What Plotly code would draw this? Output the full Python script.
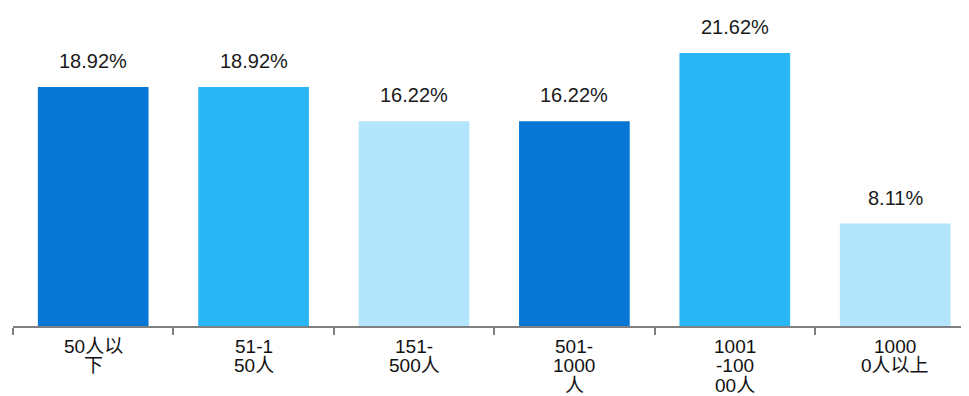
import plotly.graph_objects as go

categories = ["50人以下", "51-150人", "151-500人", "501-1000人", "1001-10000人", "10000人以上"]
tick_lines = [["50人以", "下"], ["51-1", "50人"], ["151-", "500人"], ["501-", "1000", "人"],
              ["1001", "-100", "00人"], ["1000", "0人以上"]]
values = [18.92, 18.92, 16.22, 16.22, 21.62, 8.11]
value_labels = ["18.92%", "18.92%", "16.22%", "16.22%", "21.62%", "8.11%"]
colors = ["#0677D4", "#29B6F6", "#B3E5FC", "#0677D4", "#29B6F6", "#B3E5FC"]

FONT = "Arial, 'Liberation Sans', 'Noto Sans CJK SC', sans-serif"

fig = go.Figure(go.Bar(
    x=categories, y=values, marker=dict(color=colors, line=dict(width=0)),
    width=0.69, hoverinfo="skip"))

ann = []
for c, v, t in zip(categories, values, value_labels):
    ann.append(dict(x=c, y=v, text=t, showarrow=False, yanchor="middle",
                    yshift=26, font=dict(size=20, color="#1a1a1a", family=FONT)))
for c, lines in zip(categories, tick_lines):
    for i, ln in enumerate(lines):
        ann.append(dict(x=c, y=0, text=ln, showarrow=False, yanchor="middle",
                        yshift=-(20 + 19.5 * i), font=dict(size=19, color="#111111", family=FONT)))

fig.update_layout(
    width=969, height=396, margin=dict(l=5, r=0, t=0, b=78),
    paper_bgcolor="white", plot_bgcolor="white", showlegend=False,
    annotations=ann, font=dict(family=FONT),
    xaxis=dict(range=[-0.5, 5.51], showticklabels=False, showgrid=False, zeroline=False,
               showline=True, linecolor="#808080", linewidth=2,
               ticks="outside", tickson="boundaries", ticklen=7, tickcolor="#808080", tickwidth=2),
    yaxis=dict(range=[0, 25.18], visible=False, showgrid=False, zeroline=False),
)
fig.write_html("out.html")
